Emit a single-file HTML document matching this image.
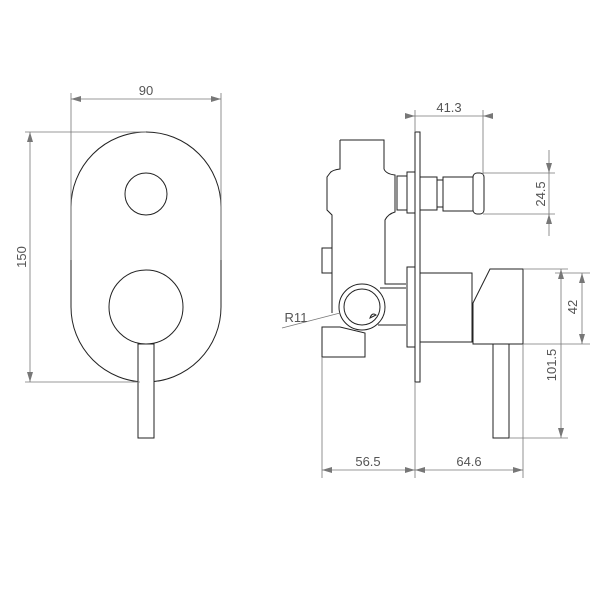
<!DOCTYPE html>
<html><head><style>body{margin:0;background:#fff}svg{display:block}</style></head><body>
<svg width="600" height="600" viewBox="0 0 600 600" xmlns="http://www.w3.org/2000/svg">
<defs>
<marker id="a" markerWidth="10" markerHeight="6" refX="10" refY="3" orient="auto-start-reverse" markerUnits="userSpaceOnUse"><path d="M0,0 L10,3 L0,6 Z" fill="#777"/></marker>
</defs>
<g fill="none" stroke="#222" stroke-width="1">
<!-- front view -->
<rect x="71" y="132" width="150" height="250" rx="75" ry="75" fill="#fff"/>
<circle cx="146" cy="194" r="21"/>
<circle cx="146" cy="307" r="37"/>
<rect x="138" y="344" width="16" height="94" fill="#fff"/>
<!-- side view body -->
<path d="M340,140 L384,140 L384,169 Q386,174 395,175 L395,212 Q388,214 385,220 L385,284 L406,284"/>
<path d="M340,140 L340,169 Q332,170 330,173 L327,177 L327,210 L332,215 L332,248"/>
<rect x="322" y="248" width="10" height="25"/>
<path d="M332,273 L332,313"/>
<path d="M322,327 L340,327 L365,333 L365,357 L322,357 Z"/>
<path d="M380,288 L406,288 M378,325 L406,325"/>
<circle cx="362" cy="307" r="23" fill="#fff"/>
<circle cx="362" cy="307" r="18"/>
<path d="M370,318 Q372,312 376,315 Z"/>
<!-- plate -->
<rect x="415" y="132" width="5" height="250" fill="#fff"/>
<!-- top stem -->
<rect x="397" y="176" width="10" height="34"/>
<rect x="407" y="172" width="8" height="41"/>
<rect x="420" y="177" width="17" height="33"/>
<rect x="437" y="180" width="6" height="27"/>
<rect x="443" y="177" width="30" height="34"/>
<rect x="473" y="173" width="11" height="41" rx="4"/>
<!-- lower -->
<rect x="407" y="267" width="8" height="80"/>
<rect x="420" y="273" width="52" height="69"/>
<path d="M490,269 L523,269 L523,344 L473,344 L473,303 Z"/>
<rect x="493" y="344" width="16" height="94" fill="#fff"/>
</g>
<g stroke="#777" stroke-width="0.8" fill="none">
<!-- 90 -->
<path d="M71,93 L71,260 M221,93 L221,260"/>
<line x1="71" y1="99" x2="221" y2="99" marker-start="url(#a)" marker-end="url(#a)"/>
<!-- 150 -->
<path d="M25,132 L146,132 M25,382 L140,382"/>
<line x1="30" y1="132" x2="30" y2="382" marker-start="url(#a)" marker-end="url(#a)"/>
<!-- 41.3 -->
<path d="M415,110 L415,132 M483,110 L483,175"/>
<line x1="405" y1="116" x2="415" y2="116" marker-end="url(#a)"/>
<line x1="493" y1="116" x2="483" y2="116" marker-end="url(#a)"/>
<line x1="415" y1="116" x2="483" y2="116"/>
<!-- 24.5 -->
<path d="M483,173 L555,173 M483,214 L555,214"/>
<line x1="549" y1="150" x2="549" y2="173" marker-end="url(#a)"/>
<line x1="549" y1="236" x2="549" y2="214" marker-end="url(#a)"/>
<line x1="549" y1="173" x2="549" y2="214"/>
<!-- 42 / 101.5 -->
<path d="M523,269 L568,269 M523,344 L590,344 M509,438 L568,438 M555,273 L590,273"/>
<line x1="582" y1="273" x2="582" y2="344" marker-start="url(#a)" marker-end="url(#a)"/>
<line x1="561" y1="269" x2="561" y2="438" marker-start="url(#a)" marker-end="url(#a)"/>
<!-- bottom -->
<path d="M322,357 L322,478 M415,382 L415,478 M523,344 L523,478"/>
<line x1="322" y1="470" x2="415" y2="470" marker-start="url(#a)" marker-end="url(#a)"/>
<line x1="415" y1="470" x2="523" y2="470" marker-start="url(#a)" marker-end="url(#a)"/>
<!-- R11 leader -->
<line x1="282" y1="328" x2="340" y2="313"/>
</g>
<g font-family="Liberation Sans, sans-serif" font-size="13" fill="#555" text-anchor="middle">
<text x="146" y="95">90</text>
<text transform="translate(26,257) rotate(-90)">150</text>
<text x="449" y="112">41.3</text>
<text transform="translate(545,194) rotate(-90)">24.5</text>
<text transform="translate(577,307) rotate(-90)">42</text>
<text transform="translate(556,365) rotate(-90)">101.5</text>
<text x="368" y="466">56.5</text>
<text x="469" y="466">64.6</text>
<text x="296" y="322">R11</text>
</g>
</svg>
</body></html>
